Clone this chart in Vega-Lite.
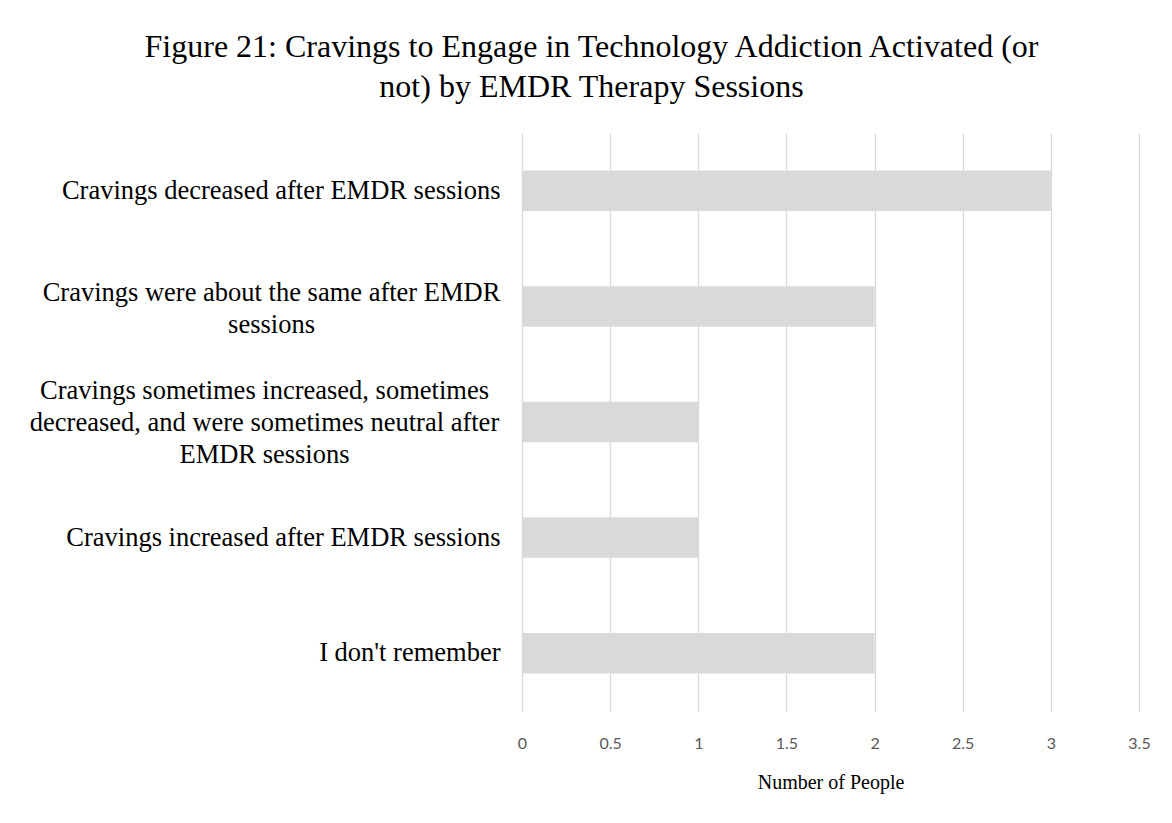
{
  "$schema": "https://vega.github.io/schema/vega-lite/v6.json",
  "autosize": "none",
  "width": 617,
  "height": 578,
  "padding": {"left": 522, "top": 133, "right": 33, "bottom": 112},
  "background": "white",
  "title": {
    "text": ["Figure 21: Cravings to Engage in Technology Addiction Activated (or", "not) by EMDR Therapy Sessions"],
    "font": "Liberation Serif",
    "fontSize": 32,
    "fontWeight": "normal",
    "color": "#000000",
    "lineHeight": 40,
    "anchor": "middle",
    "dx": -239,
    "offset": 29
  },
  "data": {
    "values": [
      {"response": "Cravings decreased after EMDR sessions", "people": 3},
      {"response": "Cravings were about the same after EMDR sessions", "people": 2},
      {"response": "Cravings sometimes increased, sometimes decreased, and were sometimes neutral after EMDR sessions", "people": 1},
      {"response": "Cravings increased after EMDR sessions", "people": 1},
      {"response": "I don't remember", "people": 2}
    ]
  },
  "mark": {"type": "bar", "color": "#d9d9d9"},
  "encoding": {
    "y": {
      "field": "response",
      "type": "nominal",
      "sort": null,
      "scale": {"paddingInner": 0.65, "paddingOuter": 0.325},
      "axis": {
        "title": null,
        "domain": false,
        "ticks": false,
        "grid": false,
        "labelFont": "Liberation Serif",
        "labelFontSize": 26.5,
        "labelColor": "#000000",
        "labelLineHeight": 32,
        "labelLimit": 0,
        "labelAlign": {
          "condition": {"test": "length(datum.value) > 45", "value": "center"},
          "value": "right"
        },
        "labelPadding": {
          "condition": [
            {"test": "datum.value == 'Cravings were about the same after EMDR sessions'", "value": 251},
            {"test": "length(datum.value) > 60", "value": 258}
          ],
          "value": 22
        },
        "labelOffset": {
          "condition": [
            {"test": "datum.value == 'Cravings were about the same after EMDR sessions'", "value": -13},
            {"test": "length(datum.value) > 60", "value": -31}
          ],
          "value": 0
        },
        "labelExpr": "datum.value == 'Cravings were about the same after EMDR sessions' ? ['Cravings were about the same after EMDR', 'sessions'] : datum.value == 'Cravings sometimes increased, sometimes decreased, and were sometimes neutral after EMDR sessions' ? ['Cravings sometimes increased, sometimes', 'decreased, and were sometimes neutral after', 'EMDR sessions'] : datum.value"
      }
    },
    "x": {
      "field": "people",
      "type": "quantitative",
      "scale": {"domain": [0, 3.5], "nice": false},
      "axis": {
        "title": "Number of People",
        "titleFont": "Liberation Serif",
        "titleFontSize": 20,
        "titleFontWeight": "normal",
        "titleColor": "#000000",
        "titlePadding": 21,
        "values": [0, 0.5, 1, 1.5, 2, 2.5, 3, 3.5],
        "format": "~g",
        "domain": false,
        "ticks": false,
        "grid": true,
        "gridColor": "#d9d9d9",
        "gridWidth": 1.3,
        "labelFont": "Lato",
        "labelFontSize": 16,
        "labelColor": "#595959",
        "labelPadding": 24,
        "labelFlush": false
      }
    }
  },
  "config": {"view": {"stroke": null}}
}
